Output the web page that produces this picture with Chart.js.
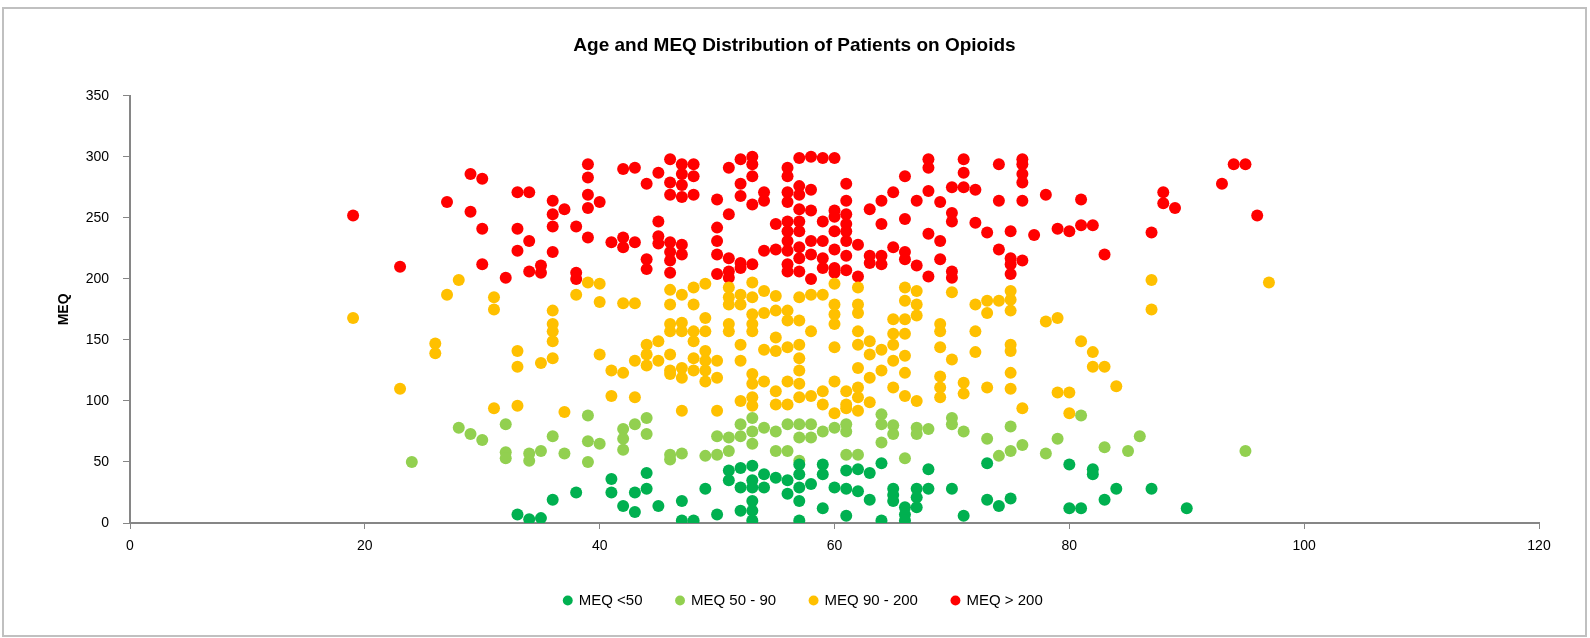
<!DOCTYPE html>
<html>
<head>
<meta charset="utf-8">
<script src="https://cdn.jsdelivr.net/npm/chart.js@4.4.1/dist/chart.umd.min.js"></script>
<style>
  body { margin: 0; background: #fff; }
  canvas { display: block; }
</style>
</head>
<body>
<canvas id="meq-chart" width="1590" height="638"></canvas>
<script>
// [age, MEQ] pairs, one array per group
const meqUnder50 = [
    [33, 7], [34, 3], [35, 4], [36, 19], [38, 25], [41, 36], [41, 25], [42, 14], [43, 25], [43, 9],
    [44, 41], [44, 28], [45, 14], [47, 18], [47, 2], [48, 2], [49, 28], [50, 7], [51, 43], [51, 35],
    [52, 45], [52, 29], [52, 10], [53, 47], [53, 35], [53, 29], [53, 18], [53, 10], [53, 2], [54, 40],
    [54, 29], [55, 37], [56, 35], [56, 24], [57, 48], [57, 40], [57, 29], [57, 18], [57, 2], [58, 32],
    [59, 48], [59, 40], [59, 12], [60, 29], [61, 43], [61, 28], [61, 6], [62, 44], [62, 26], [63, 41],
    [63, 19], [64, 49], [64, 2], [65, 28], [65, 23], [65, 18], [66, 13], [66, 7], [66, 2], [67, 28],
    [67, 21], [67, 13], [68, 44], [68, 28], [70, 28], [71, 6], [73, 49], [73, 19], [74, 14], [75, 20],
    [80, 48], [80, 12], [81, 12], [82, 44], [82, 40], [83, 19], [84, 28], [87, 28], [90, 12]
];

const meq50to90 = [
    [24, 50], [28, 78], [29, 73], [30, 68], [32, 81], [32, 58], [32, 53], [34, 57], [34, 51], [35, 59],
    [36, 71], [37, 57], [39, 88], [39, 67], [39, 50], [40, 65], [42, 77], [42, 69], [42, 60], [43, 81],
    [44, 86], [44, 73], [46, 52], [46, 56], [47, 57], [49, 55], [50, 71], [50, 56], [51, 70], [51, 59],
    [52, 81], [52, 71], [53, 86], [53, 75], [53, 65], [54, 78], [55, 75], [55, 59], [56, 81], [56, 59],
    [57, 81], [57, 70], [57, 51], [58, 81], [58, 70], [59, 75], [60, 78], [61, 81], [61, 75], [61, 56],
    [62, 56], [64, 89], [64, 81], [64, 66], [65, 80], [65, 73], [66, 53], [67, 78], [67, 73], [68, 77],
    [70, 86], [70, 81], [71, 75], [73, 69], [74, 55], [75, 79], [75, 59], [76, 64], [78, 57], [79, 69],
    [81, 88], [83, 62], [85, 59], [86, 71], [95, 59]
];

const meq90to200 = [
    [19, 168], [23, 110], [26, 147], [26, 139], [27, 187], [28, 199], [31, 185], [31, 175], [31, 94],
    [33, 141], [33, 128], [33, 96], [35, 131], [36, 174], [36, 163], [36, 157], [36, 149], [36, 135],
    [37, 91], [38, 187], [39, 197], [40, 196], [40, 181], [40, 138], [41, 125], [41, 104], [42, 180],
    [42, 123], [43, 180], [43, 133], [43, 103], [44, 146], [44, 138], [44, 129], [45, 149], [45, 133],
    [46, 191], [46, 179], [46, 163], [46, 157], [46, 138], [46, 125], [46, 122],
    [47, 187], [47, 164], [47, 157], [47, 127], [47, 119], [47, 92],
    [48, 193], [48, 179], [48, 157], [48, 149], [48, 135], [48, 125],
    [49, 196], [49, 168], [49, 157], [49, 141], [49, 133], [49, 125], [49, 116],
    [50, 133], [50, 119], [50, 92], [51, 193], [51, 185], [51, 179], [51, 163], [51, 157],
    [52, 187], [52, 179], [52, 146], [52, 133], [52, 100],
    [53, 197], [53, 185], [53, 171], [53, 163], [53, 157], [53, 122], [53, 114], [53, 103], [53, 96],
    [54, 190], [54, 172], [54, 142], [54, 116], [55, 186], [55, 174], [55, 152], [55, 141], [55, 108], [55, 97],
    [56, 174], [56, 166], [56, 144], [56, 116], [56, 97],
    [57, 185], [57, 166], [57, 146], [57, 135], [57, 125], [57, 114], [57, 103],
    [58, 187], [58, 157], [58, 104], [59, 187], [59, 108], [59, 97],
    [60, 196], [60, 179], [60, 171], [60, 163], [60, 144], [60, 116], [60, 90], [61, 108], [61, 97], [61, 94],
    [62, 193], [62, 179], [62, 172], [62, 157], [62, 146], [62, 127], [62, 111], [62, 103], [62, 92],
    [63, 149], [63, 138], [63, 119], [63, 99], [64, 142], [64, 125],
    [65, 167], [65, 155], [65, 146], [65, 133], [65, 111],
    [66, 193], [66, 182], [66, 167], [66, 155], [66, 137], [66, 123], [66, 104],
    [67, 190], [67, 179], [67, 170], [67, 100],
    [69, 163], [69, 157], [69, 144], [69, 120], [69, 111], [69, 103], [70, 189], [70, 134], [71, 115], [71, 106],
    [72, 179], [72, 157], [72, 140], [73, 182], [73, 172], [73, 111], [74, 182],
    [75, 190], [75, 183], [75, 174], [75, 146], [75, 141], [75, 123], [75, 110], [76, 94],
    [78, 165], [79, 168], [79, 107], [80, 107], [80, 90], [81, 149], [82, 140], [82, 128], [83, 128],
    [84, 112], [87, 199], [87, 175], [97, 197]
];

const meqOver200 = [
    [19, 252], [23, 210], [27, 263], [29, 286], [29, 255], [30, 282], [30, 241], [30, 212], [32, 201],
    [33, 271], [33, 241], [33, 223], [34, 271], [34, 231], [34, 206], [35, 211], [35, 205],
    [36, 264], [36, 253], [36, 243], [36, 222], [37, 257], [38, 243], [38, 205], [38, 200],
    [39, 294], [39, 283], [39, 269], [39, 258], [39, 234], [40, 263], [41, 230],
    [42, 290], [42, 234], [42, 226], [43, 291], [43, 230], [44, 278], [44, 216], [44, 208],
    [45, 287], [45, 247], [45, 235], [45, 229],
    [46, 298], [46, 279], [46, 269], [46, 230], [46, 222], [46, 215], [46, 205],
    [47, 294], [47, 286], [47, 277], [47, 267], [47, 228], [47, 220], [48, 294], [48, 284], [48, 269],
    [50, 265], [50, 242], [50, 231], [50, 220], [50, 204], [51, 291], [51, 253], [51, 217], [51, 206], [51, 201],
    [52, 298], [52, 278], [52, 268], [52, 213], [52, 209], [53, 300], [53, 294], [53, 284], [53, 261], [53, 212],
    [54, 271], [54, 264], [54, 223], [55, 245], [55, 224],
    [56, 291], [56, 284], [56, 271], [56, 263], [56, 247], [56, 239], [56, 231], [56, 223], [56, 212], [56, 206],
    [57, 299], [57, 276], [57, 269], [57, 257], [57, 247], [57, 239], [57, 226], [57, 217], [57, 206],
    [58, 300], [58, 273], [58, 256], [58, 231], [58, 220], [58, 200],
    [59, 299], [59, 247], [59, 231], [59, 217], [59, 209],
    [60, 299], [60, 256], [60, 251], [60, 239], [60, 224], [60, 209], [60, 205],
    [61, 278], [61, 264], [61, 253], [61, 245], [61, 239], [61, 231], [61, 219], [61, 207],
    [62, 228], [62, 202], [63, 257], [63, 219], [63, 213], [64, 264], [64, 245], [64, 219], [64, 212],
    [65, 271], [65, 226], [66, 284], [66, 249], [66, 222], [66, 216], [67, 264], [67, 211],
    [68, 298], [68, 291], [68, 272], [68, 237], [68, 202], [69, 263], [69, 231], [69, 216],
    [70, 275], [70, 254], [70, 247], [70, 206], [70, 201], [71, 298], [71, 287], [71, 275],
    [72, 273], [72, 246], [73, 238], [74, 294], [74, 264], [74, 224],
    [75, 239], [75, 217], [75, 212], [75, 204], [76, 298], [76, 294], [76, 286], [76, 279], [76, 264], [76, 215],
    [77, 236], [78, 269], [79, 241], [80, 239], [81, 265], [81, 244], [82, 244], [83, 220],
    [87, 238], [88, 271], [88, 262], [89, 258], [93, 278], [94, 294], [95, 294], [96, 252]
];

const seriesLabels = ["MEQ <50", "MEQ 50 - 90", "MEQ 90 - 200", "MEQ > 200"];
const seriesColors = ["#00b050", "#92d050", "#ffc000", "#ff0000"];
const xTicks = [0, 20, 40, 60, 80, 100, 120];
const yTicks = [0, 50, 100, 150, 200, 250, 300, 350];

const fontFamily = "'Liberation Sans', Arial, sans-serif";

function toPoints(pairs) {
    return pairs.map((p) => ({ x: p[0], y: p[1] }));
}

const groups = [meqUnder50, meq50to90, meq90to200, meqOver200];

const frame = {
    id: "frame",
    beforeDraw(chart) {
        const ctx = chart.ctx;
        ctx.save();
        ctx.fillStyle = "#ffffff";
        ctx.fillRect(0, 0, chart.width, chart.height);
        ctx.strokeStyle = "#c0c0c0";
        ctx.lineWidth = 2;
        ctx.strokeRect(3, 8, 1583, 628);
        ctx.restore();
    },
};

// title and legend sit centred on the whole frame, not on the plot box
const recentre = {
    id: "recentre",
    afterLayout(chart) {
        chart.titleBlock.left += 25;
        chart.titleBlock.right += 25;
        chart.legend.left += 34;
        chart.legend.right += 34;
    },
};

new Chart(document.getElementById("meq-chart"), {
    type: "scatter",
    data: {
        datasets: groups.map((pairs, i) => ({
            label: seriesLabels[i],
            data: toPoints(pairs),
            backgroundColor: seriesColors[i],
            borderColor: seriesColors[i],
            borderWidth: 0,
            pointRadius: 6,
            pointHoverRadius: 6,
        })),
    },
    options: {
        responsive: false,
        animation: false,
        devicePixelRatio: 1,
        layout: {
            padding: { left: 0, right: 51, top: 0, bottom: 20 },
        },
        plugins: {
            tooltip: { enabled: false },
            title: {
                display: true,
                text: "Age and MEQ Distribution of Patients on Opioids",
                color: "#000",
                font: { family: fontFamily, size: 19, weight: "bold" },
                padding: { top: 34, bottom: 39 },
            },
            legend: {
                position: "bottom",
                labels: {
                    usePointStyle: true,
                    pointStyle: "circle",
                    boxWidth: 7,
                    boxHeight: 7,
                    color: "#000",
                    padding: 34,
                    font: { family: fontFamily, size: 15 },
                },
            },
        },
        scales: {
            x: {
                type: "linear",
                min: 0,
                max: 120,
                afterBuildTicks: (axis) => {
                    axis.ticks = xTicks.map((v) => ({ value: v }));
                },
                afterFit: (axis) => {
                    axis.height = 36;
                },
                grid: { display: true, drawOnChartArea: false, drawTicks: true, tickLength: 6, color: "#868686" },
                border: { display: true, color: "#868686", width: 2 },
                ticks: { color: "#000", padding: 9, font: { family: fontFamily, size: 14 } },
            },
            y: {
                type: "linear",
                min: 0,
                max: 350,
                afterBuildTicks: (axis) => {
                    axis.ticks = yTicks.map((v) => ({ value: v }));
                },
                afterFit: (axis) => {
                    axis.width = 130;
                },
                grid: { display: true, drawOnChartArea: false, drawTicks: true, tickLength: 7, color: "#868686" },
                border: { display: true, color: "#868686", width: 2 },
                ticks: { color: "#000", padding: 14, font: { family: fontFamily, size: 14 } },
                title: {
                    display: true,
                    text: "MEQ",
                    color: "#000",
                    font: { family: fontFamily, size: 14, weight: "bold" },
                    padding: { top: 56, bottom: 0 },
                },
            },
        },
    },
    plugins: [frame, recentre],
});
</script>
</body>
</html>
